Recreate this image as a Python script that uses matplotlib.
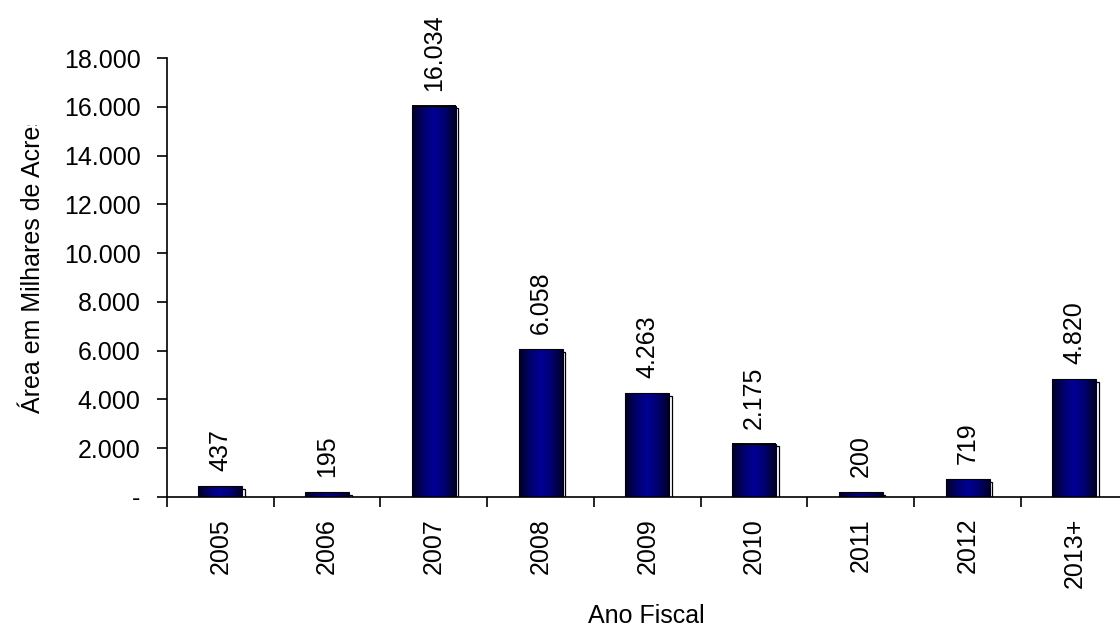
import matplotlib
matplotlib.use("Agg")
import matplotlib.pyplot as plt
import matplotlib.transforms as mtransforms
from matplotlib.colors import LinearSegmentedColormap
from matplotlib.patches import Rectangle
from matplotlib.ticker import FuncFormatter, FixedLocator
import numpy as np

plt.rcParams['font.family'] = ['Liberation Sans', 'DejaVu Sans']

# fiscal year and area (thousands of acres)
anos = ['2005', '2006', '2007', '2008', '2009', '2010', '2011', '2012', '2013+']
area = [437, 195, 16034, 6058, 4263, 2175, 200, 719, 4820]
rotulos = ['437', '195', '16.034', '6.058', '4.263', '2.175', '200', '719', '4.820']

W, H = 1120, 626
fig = plt.figure(figsize=(W / 100, H / 100), dpi=100)
# the last category runs a little past the right edge
ax = fig.add_axes([167 / W, 1 - 497 / H, 960.75 / W, 439 / H])

# navy bar shading: dark edges, lighter middle
navy = LinearSegmentedColormap.from_list('navy', ['#000024', '#00006e', '#000094', '#00006e', '#000024'])
grad = np.linspace(0, 1, 64).reshape(1, -1)

largura = 0.41
fs = 18
x = np.arange(len(anos))
sombra = mtransforms.offset_copy(ax.transData, fig=fig, x=2.5, y=-2.5, units='dots')
for xi, v, txt in zip(x, area, rotulos):
    x0 = xi - largura / 2
    # outlined drop shadow behind each bar, cut off at the baseline
    ax.add_patch(Rectangle((x0, 0), largura, v, facecolor='white', edgecolor='black',
                           linewidth=0.9, transform=sombra, zorder=1))
    ax.imshow(grad, extent=[x0, x0 + largura, 0, v], aspect='auto', cmap=navy,
              interpolation='bicubic', zorder=2)
    ax.add_patch(Rectangle((x0, 0), largura, v, facecolor='none', edgecolor='#00001a',
                           linewidth=0.8, zorder=3))
    ax.annotate(txt, (xi, v), xytext=(0, 11), textcoords='offset points',
                rotation=90, ha='center', va='bottom', fontsize=fs)

ax.set_xlim(-0.5, len(anos) - 0.5)
ax.set_ylim(0, 18000)
ax.set_yticks(np.arange(0, 18001, 2000))
ax.yaxis.set_major_formatter(FuncFormatter(lambda v, p: '-' if v == 0 else f'{int(v):,}'.replace(',', '.')))
ax.tick_params(axis='y', direction='out', length=7, width=1.2, labelsize=fs, pad=12)

# category ticks sit between the bars, labels at the centres
ax.xaxis.set_major_locator(FixedLocator(np.arange(-0.5, len(anos), 1.0)))
ax.xaxis.set_major_formatter(FuncFormatter(lambda v, p: ''))
ax.xaxis.set_minor_locator(FixedLocator(x))
ax.set_xticklabels(anos, minor=True, rotation=90, fontsize=fs)
ax.tick_params(axis='x', which='major', direction='out', length=7, width=1.2)
ax.tick_params(axis='x', which='minor', length=0, pad=15)

for s in ['top', 'right']:
    ax.spines[s].set_visible(False)
for s in ['left', 'bottom']:
    ax.spines[s].set_linewidth(1.2)
    ax.spines[s].set_zorder(4)

fig.text(646 / W, 1 - 623 / H, 'Ano Fiscal', ha='center', va='baseline', fontsize=fs)
ylab = fig.text(33 / W, 1 - 413 / H, 'Área em Milhares de Acres', rotation=90, ha='center',
                va='bottom', fontsize=fs)
ylab.set_clip_box(mtransforms.Bbox.from_extents(0, 0, 200, H - 125))
ylab.set_clip_on(True)

fig.savefig('out.png', dpi=100)
